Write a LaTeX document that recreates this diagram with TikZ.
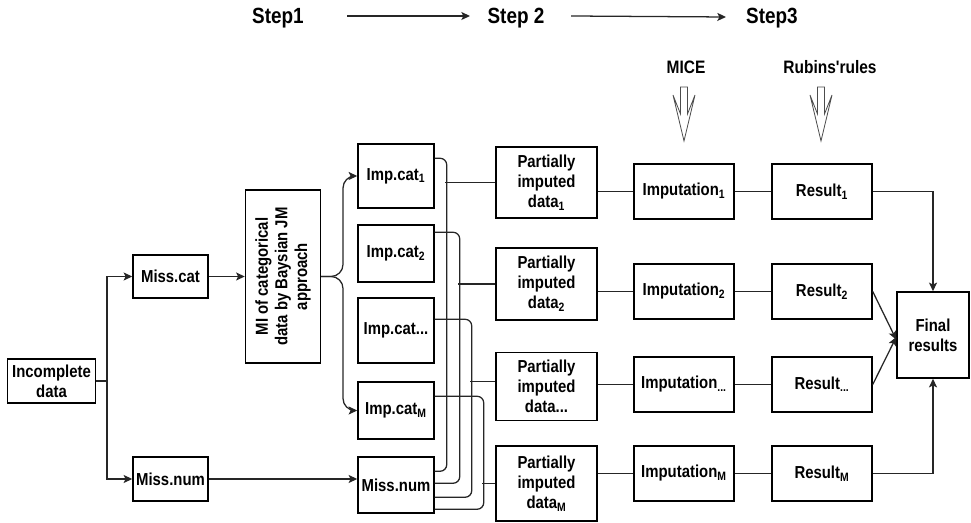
\documentclass[tikz,border=0pt]{standalone}
\usepackage{fontspec}
\setmainfont{Liberation Sans}[FakeStretch=0.86]
\newfontfamily\plainsans{Liberation Sans}[FakeStretch=0.86]
\usetikzlibrary{arrows.meta}
\begin{document}
\begin{tikzpicture}[x=0.75pt,y=-0.75pt,
  wh/.style 2 args={minimum width=#1*0.75pt, minimum height=#2*0.75pt},
  box/.style={draw=black, line width=1.1pt, inner sep=0pt, align=center,
    font=\fontsize{13pt}{15pt}\selectfont\bfseries},
  lbl/.style={inner sep=0pt, font=\fontsize{13.5pt}{15pt}\selectfont\bfseries},
  steplbl/.style={inner sep=0pt, font=\fontsize{16.5pt}{19pt}\selectfont\bfseries},
  line/.style={draw=black!85, line width=0.95pt},
  arr/.style={line, -{Stealth[length=6.5pt,width=6pt,inset=1.5pt]}},
  hollow/.style={draw=black!70, line width=0.6pt, fill=white}
]
\useasboundingbox (0,0) rectangle (971,523);

% Steps
\node[steplbl] (s1) at (278,18) {Step1};
\node[steplbl] (s2) at (516,18) {Step 2};
\node[steplbl] (s3) at (772,18) {Step3};
\draw[arr] (347,16) coordinate (a1) -- (470,16) coordinate (a2);
\draw[arr] (571,16) coordinate (b1) -- (726,17) coordinate (b2);

% MICE / Rubins
\node[lbl] (mice) at (686,67) {MICE};
\node[lbl, font=\plainsans\fontsize{13.5pt}{15pt}\selectfont\bfseries] (rub) at (830,67) {Rubins'rules};
\foreach \cx in {684,821}{
  \draw[hollow] (\cx-3.5,87) -- (\cx+3.5,87) -- (\cx+3.5,114) -- (\cx+11,95)
     -- (\cx,141) -- (\cx-11,95) -- (\cx-3.5,114) -- cycle;
}

% Left part
\node[box, wh={88}{44}] (inc) at (51.5,381) {Incomplete\\data};
\node[box, wh={75}{43}] (mcat) at (170.5,276.5) {Miss.cat};
\node[box, wh={75}{44}] (mnum) at (170.5,479) {Miss.num};
\node[box, wh={75}{173}] (mi) at (283,276.5) {};
\node[lbl, align=center, rotate=90, font=\fontsize{13pt}{14.8pt}\selectfont\bfseries] (mit) at (mi.center) {MI of categorical\\data by Baysian JM\\approach};

\coordinate (sp) at (107,381);
\draw[line] (inc.east) -- (sp);
\draw[arr] (sp) |- (mcat.west);
\draw[arr] (sp) |- (mnum.west);
\draw[arr] (mcat.east) -- (mi.west |- mcat.east);

% Imp.cat column
\node[box, wh={76}{64}] (ic1) at (396,176) {Imp.cat\textsubscript{1}};
\node[box, wh={76}{57}] (ic2) at (396,253.5) {Imp.cat\textsubscript{2}};
\node[box, wh={76}{65}] (ic3) at (396,330.5) {Imp.cat...};
\node[box, wh={76}{57}] (icM) at (396,410.5) {Imp.cat\textsubscript{M}};
\node[box, wh={76}{56}] (mn2) at (396,485) {Miss.num};

\coordinate (br) at (343,276.5);
\draw[arr, rounded corners=9pt] (mi.east) -- (br) |- (ic1.west);
\draw[arr, rounded corners=9pt] (mi.east) -- (br) |- (icM.west);
\draw[arr] (mnum.east) -- (mn2.west |- mnum.east);

% Imp.cat -> Miss.num loops
\draw[line, rounded corners=5pt] ([yshift=-11.25pt]ic1.north east) -- ++(12,0) |- ([yshift=-11.25pt]mn2.north east);
\draw[line, rounded corners=5pt] ([yshift=-6pt]ic2.north east) -- ++(25,0) |- ([yshift=-20.25pt]mn2.north east);
\draw[line, rounded corners=5pt] ([yshift=-16.5pt]ic3.north east) -- ++(37,0) |- ([yshift=-30.75pt]mn2.north east);
\draw[line, rounded corners=5pt] ([yshift=-11.25pt]icM.north east) -- ++(49,0) |- ([yshift=-39.75pt]mn2.north east);

% Partially imputed data
\node[box, wh={101}{71}] (pd1) at (546.5,182.5) {Partially\\imputed\\data\textsubscript{1}};
\node[box, wh={101}{72}] (pd2) at (546.5,284) {Partially\\imputed\\data\textsubscript{2}};
\node[box, wh={101}{68}] (pd3) at (546.5,386.5) {Partially\\imputed\\data...};
\node[box, wh={101}{75}] (pdM) at (546.5,483.5) {Partially\\imputed\\data\textsubscript{M}};

\draw[line] (pd1.west) -- ++(-50,0);
\draw[line] (pd2.west) -- ++(-37,0);
\draw[line] ([yshift=3.5pt]pd3.west) -- ++(-25,0);
\draw[line] (pdM.west) -- ++(-13,0);

% Imputation
\node[box, wh={100}{55}] (im1) at (684,191.5) {Imputation\textsubscript{1}};
\node[box, wh={100}{55}] (im2) at (684,291.5) {Imputation\textsubscript{2}};
\node[box, wh={100}{55}] (im3) at (684,384.5) {Imputation\textsubscript{...}};
\node[box, wh={100}{55}] (imM) at (684,473.5) {Imputation\textsubscript{M}};

\draw[line] (im1.west -| pd1.east) -- (im1.west);
\draw[line] (im2.west -| pd2.east) -- (im2.west);
\draw[line] (im3.west -| pd3.east) -- (im3.west);
\draw[line] (imM.west -| pdM.east) -- (imM.west);

% Results
\node[box, wh={100}{55}] (r1) at (822,191.5) {Result\textsubscript{1}};
\node[box, wh={100}{55}] (r2) at (822,291.5) {Result\textsubscript{2}};
\node[box, wh={100}{55}] (r3) at (822,384.5) {Result\textsubscript{...}};
\node[box, wh={100}{55}] (rM) at (822,473.5) {Result\textsubscript{M}};

\draw[line] (im1.east) -- (r1.west);
\draw[line] (im2.east) -- (r2.west);
\draw[line] (im3.east) -- (r3.west);
\draw[line] (imM.east) -- (rM.west);

\node[box, wh={72}{86}] (fin) at (933,335) {Final\\results};

\draw[arr] (r1.east) -| (fin.north);
\draw[arr] (rM.east) -| (fin.south);
\draw[arr] (r2.east) -- ([yshift=-3.5pt]fin.west);
\draw[arr] (r3.east) -- ([yshift=-1.5pt]fin.west);
\end{tikzpicture}
\end{document}
